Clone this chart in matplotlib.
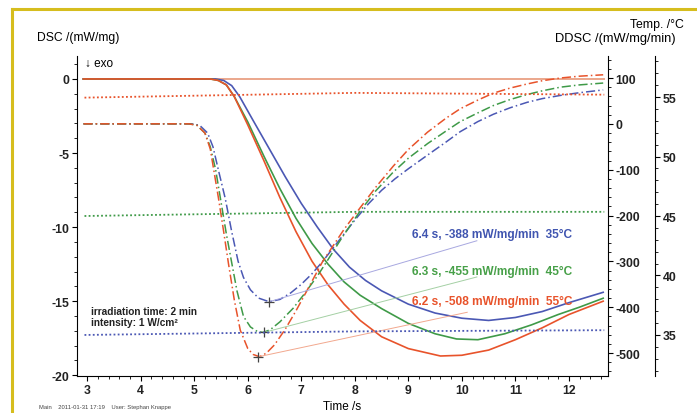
import matplotlib
matplotlib.use("Agg")
import matplotlib.pyplot as plt
from matplotlib.lines import Line2D
from matplotlib.ticker import MultipleLocator

plt.rcParams['font.family'] = ['Liberation Sans', 'DejaVu Sans']
plt.rcParams['axes.unicode_minus'] = False

# DSC curves (left axis, mW/mg)
t_dsc_red = [2.93, 5.3, 5.45, 5.6, 5.75, 6.0, 6.3, 6.6, 6.9, 7.2, 7.5, 7.8, 8.1, 8.5,
             9.0, 9.6, 10.0, 10.5, 11.0, 11.5, 12.0, 12.64]
dsc_red = [0, 0, -0.1, -0.4, -1.2, -3.1, -5.5, -8.0, -10.3, -12.3, -13.9, -15.2, -16.3, -17.4,
           -18.2, -18.7, -18.65, -18.3, -17.6, -16.8, -15.9, -15.0]
t_dsc_green = [2.93, 5.3, 5.45, 5.6, 5.75, 6.0, 6.3, 6.6, 6.9, 7.2, 7.5, 7.8, 8.1, 8.5, 9.0,
               9.5, 9.9, 10.3, 10.8, 11.3, 11.8, 12.2, 12.64]
dsc_green = [0, 0, -0.1, -0.4, -1.2, -2.9, -5.2, -7.4, -9.4, -11.1, -12.5, -13.7, -14.6, -15.5, -16.5,
             -17.2, -17.55, -17.6, -17.2, -16.6, -15.9, -15.4, -14.8]
t_dsc_blue = [2.93, 5.4, 5.55, 5.7, 5.85, 6.1, 6.4, 6.7, 7.0, 7.3, 7.6, 7.9, 8.2, 8.5, 9.0,
              9.5, 10.0, 10.5, 11.0, 11.5, 12.0, 12.64]
dsc_blue = [0, 0, -0.1, -0.45, -1.2, -2.8, -4.7, -6.6, -8.4, -10.0, -11.5, -12.7, -13.6, -14.3, -15.2,
            -15.8, -16.15, -16.3, -16.1, -15.7, -15.1, -14.4]
t_base = [2.93, 12.66]
dsc_base = [0, 0]

# DDSC curves (mW/mg/min)
t_ddsc_red = [2.93, 4.9, 5.05, 5.2, 5.3, 5.45, 5.55, 5.64, 5.75, 5.86, 6.0, 6.1, 6.22, 6.35, 6.5,
              6.7, 6.9, 7.1, 7.4, 7.8, 8.1, 8.4, 8.72, 9.0, 9.36, 9.7, 9.97, 10.3, 10.59,
              10.9, 11.22, 11.5, 11.84, 12.2, 12.64]
ddsc_red = [0, 0, -3, -20, -55, -160, -235, -305, -385, -450, -490, -503, -508, -500, -482,
            -448, -408, -365, -300, -230, -183, -137, -92, -56, -18, 12, 33, 52, 67,
            78, 87, 94, 100, 104, 107]
t_ddsc_green = [2.93, 4.9, 5.05, 5.2, 5.3, 5.4, 5.49, 5.6, 5.71, 5.8, 5.92, 6.05, 6.18, 6.29, 6.42,
                6.6, 6.85, 7.05, 7.3, 7.5, 7.75, 8.1, 8.4, 8.72, 9.0, 9.36, 9.7, 9.97, 10.3,
                10.59, 10.9, 11.22, 11.5, 11.84, 12.2, 12.64]
ddsc_green = [0, 0, -3, -20, -50, -100, -163, -240, -309, -365, -420, -443, -453, -455, -449,
              -432, -402, -372, -332, -296, -250, -190, -145, -105, -75, -43, -16, 5, 24,
              40, 53, 64, 72, 80, 85, 89]
t_ddsc_blue = [2.93, 4.95, 5.1, 5.25, 5.35, 5.45, 5.58, 5.7, 5.82, 5.92, 6.05, 6.2, 6.4, 6.6, 6.8,
               7.0, 7.2, 7.4, 7.6, 7.8, 8.0, 8.25, 8.5, 8.75, 9.0, 9.36, 9.7, 9.97, 10.3,
               10.59, 10.9, 11.22, 11.5, 11.84, 12.2, 12.64]
ddsc_blue = [0, 0, -3, -20, -50, -100, -163, -235, -300, -335, -362, -380, -388, -383, -369,
             -350, -327, -300, -270, -240, -210, -175, -145, -120, -98, -68, -40, -17, 5,
             21, 35, 47, 55, 62, 68, 74]

# temperature (°C)
t_temp = [2.95, 8.0, 12.66]
temp_red = [54.95, 55.35, 55.2]
temp_green = [45.0, 45.35, 45.35]
temp_blue = [35.0, 35.3, 35.4]

# minima of DDSC and label ends
peak_t = [6.4, 6.3, 6.2]
peak_v = [-388, -455, -508]
leader_t = [10.28, 10.28, 10.1]
leader_v = [-255, -334, -411]
peak_labels = ["6.4 s, -388 mW/mg/min  35°C", "6.3 s, -455 mW/mg/min  45°C",
               "6.2 s, -508 mW/mg/min  55°C"]

red = '#e8532b'
green = '#3f9a48'
blue = '#4b58b4'
salmon = '#eba78c'
leader_cols = ['#a8a8e0', '#a4d0a4', '#f2a88e']
text_cols = ['#4055b0', '#47a048', '#e8532b']

fig = plt.figure(figsize=(6.97, 4.14), dpi=100)
ax = fig.add_axes([77/697, 1-377/414, 531/697, 320/414])
ax2 = ax.twinx()
ax3 = ax.twinx()

ddash = (0, (6, 2, 1, 2))
dot = (0, (1, 1.3))

ax.plot(t_dsc_blue, dsc_blue, color=blue, lw=1.2)
ax.plot(t_dsc_green, dsc_green, color=green, lw=1.2)
ax.plot(t_dsc_red, dsc_red, color=red, lw=1.2)
ax.plot(t_base, dsc_base, color=salmon, lw=1.4, zorder=1)

ax2.plot(t_ddsc_blue, ddsc_blue, color=blue, lw=1.1, linestyle=ddash)
ax2.plot(t_ddsc_green, ddsc_green, color=green, lw=1.1, linestyle=ddash)
ax2.plot(t_ddsc_red, ddsc_red, color=red, lw=1.1, linestyle=ddash)
for i in range(3):
    ax2.plot([peak_t[i], leader_t[i]], [peak_v[i], leader_v[i]], color=leader_cols[i], lw=0.7)
ax2.plot(peak_t, peak_v, linestyle='none', marker='+', color='#444444', ms=7, mew=0.9)

ax3.plot(t_temp, temp_red, color=red, lw=1.3, linestyle=dot)
ax3.plot(t_temp, temp_green, color=green, lw=1.3, linestyle=dot)
ax3.plot(t_temp, temp_blue, color=blue, lw=1.3, linestyle=dot)

ax.set_xlim(2.81, 12.73)
ax.set_ylim(-20.05, 1.55)
ax2.set_ylim(-550, 148)
ax3.set_ylim(31.55, 58.45)

for a in (ax, ax2, ax3):
    a.spines['top'].set_visible(False)
    a.patch.set_visible(False)
ax.spines['right'].set_visible(False)
ax2.spines['left'].set_visible(False)
ax3.spines['left'].set_visible(False)
ax3.spines['bottom'].set_visible(False)
ax2.spines['bottom'].set_visible(False)
ax3.spines['right'].set_position(('outward', 47 * 0.72))

ax.xaxis.set_major_locator(MultipleLocator(1))
ax.xaxis.set_minor_locator(MultipleLocator(0.2))
ax.yaxis.set_major_locator(MultipleLocator(5))
ax.yaxis.set_minor_locator(MultipleLocator(1))
ax2.yaxis.set_major_locator(MultipleLocator(100))
ax2.yaxis.set_minor_locator(MultipleLocator(20))
ax3.yaxis.set_major_locator(MultipleLocator(5))
ax3.yaxis.set_minor_locator(MultipleLocator(1))

for a in (ax, ax2, ax3):
    a.tick_params(which='major', length=3.5, width=0.8, labelsize=8.8, pad=2)
    a.tick_params(which='minor', length=2, width=0.6)
    for lab in a.get_xticklabels() + a.get_yticklabels():
        lab.set_fontweight('bold')
        lab.set_color('#222222')

ax.set_xlabel("Time /s", fontsize=8.5, labelpad=3)

fig.text(37/697, 1-38/414, "DSC /(mW/mg)", fontsize=8.7, va='center', ha='left')
fig.text(85/697, 1-64/414, "↓ exo", fontsize=8.5, va='center', ha='left')
fig.text(684/697, 1-25/414, "Temp. /°C", fontsize=8.8, va='center', ha='right')
fig.text(676/697, 1-39/414, "DDSC /(mW/mg/min)", fontsize=9.3, va='center', ha='right')
fig.text(91/697, 1-312/414, "irradiation time: 2 min", fontsize=7.3, fontweight='bold',
         va='center', ha='left', color='#222222')
fig.text(91/697, 1-323/414, "intensity: 1 W/cm²", fontsize=7.3, fontweight='bold',
         va='center', ha='left', color='#222222')
fig.text(39/697, 1-408/414, "Main    2011-01-31 17:19    User: Stephan Knappe", fontsize=4.2,
         va='center', ha='left', color='#444444')

label_y = [235, 272, 302]
for i in range(3):
    fig.text(412/697, 1-label_y[i]/414, peak_labels[i], fontsize=8.6, fontweight='bold',
             color=text_cols[i], va='center', ha='left')

# yellow frame
ycol = '#d6bd1e'
fig.add_artist(Line2D([12/697, 1], [1-10/414, 1-10/414], transform=fig.transFigure, color=ycol, lw=2.2))
fig.add_artist(Line2D([12/697, 12/697], [0, 1-10/414], transform=fig.transFigure, color=ycol, lw=2.2))

fig.savefig("out.png", dpi=100)
